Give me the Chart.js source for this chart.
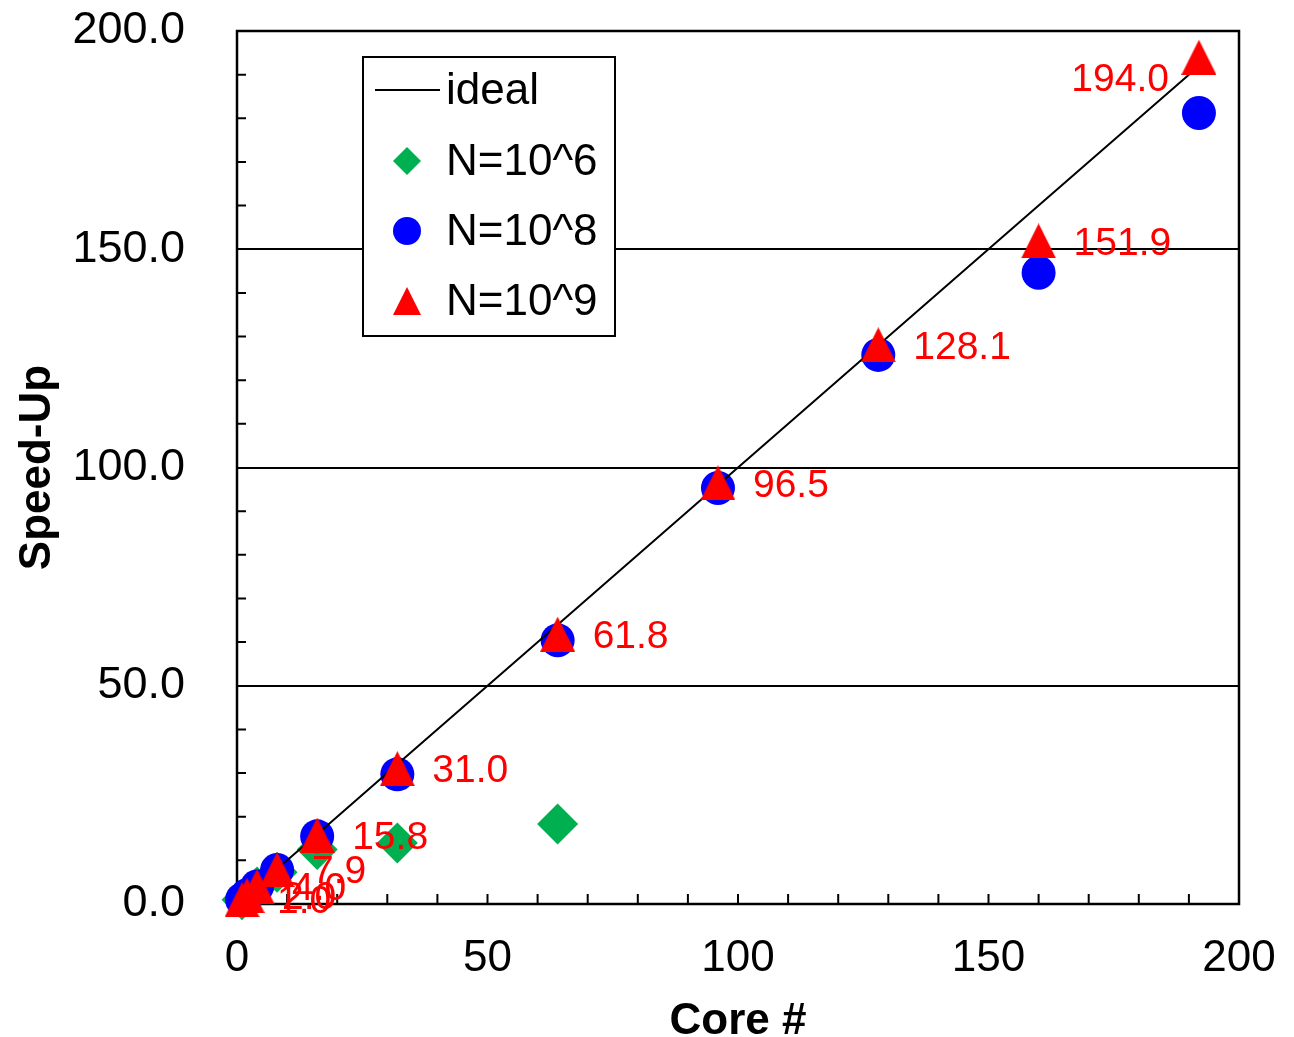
<!DOCTYPE html>
<html>
<head>
<meta charset="utf-8">
<script src="https://cdn.jsdelivr.net/npm/chart.js@4.4.1/dist/chart.umd.min.js"></script>
<style>
  html, body { margin: 0; padding: 0; background: #fff; }
  #wrap { width: 1294px; height: 1037px; }
</style>
</head>
<body>
<div id="wrap"><canvas id="chart"></canvas></div>
<script>
// core counts and measured speed-ups
const cores = [1, 2, 4, 8, 16, 32, 64, 96, 128, 160, 192];
const ideal = [1, 2, 4, 8, 16, 32, 64, 96, 128, 160, 192];
const speedN6 = [1.0, 2.0, 3.9, 7.3, 12.5, 14.0, 18.3]; // only measured up to 64 cores
const speedN8 = [1.0, 2.0, 4.0, 7.8, 15.5, 29.7, 60.4, 95.3, 125.8, 144.6, 181.2];
const speedN9 = [1.0, 2.0, 4.0, 7.9, 15.8, 31.0, 61.8, 96.5, 128.1, 151.9, 194.0];
const xTicks = [0, 50, 100, 150, 200];
const yTicks = [0, 50, 100, 150, 200];

const FONT = '"Liberation Sans", Arial, sans-serif';
const RED = '#ff0000';
const BLUE = '#0000ff';
const GREEN = '#00b050';
const CLEAR = 'rgba(0,0,0,0)';

function pairs(xs, ys) {
  return ys.map((y, i) => ({ x: xs[i], y: y }));
}

// Excel style triangle (as wide as it is tall)
function triangleImage(size, color) {
  const c = document.createElement('canvas');
  c.width = size;
  c.height = size;
  const g = c.getContext('2d');
  g.fillStyle = color;
  g.beginPath();
  g.moveTo(size / 2, 0);
  g.lineTo(size, size);
  g.lineTo(0, size);
  g.closePath();
  g.fill();
  return c;
}

const bigTriangle = triangleImage(35, RED);
const smallTriangle = triangleImage(28, RED);

const chartDecor = {
  id: 'chartDecor',
  beforeDatasetsDraw(chart) {
    const { ctx, chartArea: a, scales } = chart;
    ctx.save();
    ctx.strokeStyle = '#000';
    // minor ticks, pointing inwards
    ctx.lineWidth = 2;
    ctx.beginPath();
    for (let v = 10; v < 200; v += 10) {
      if (v % 50 === 0) continue;
      const y = scales.y.getPixelForValue(v);
      ctx.moveTo(a.left, y);
      ctx.lineTo(a.left + 9, y);
    }
    for (let v = 10; v < 200; v += 10) {
      const x = scales.x.getPixelForValue(v);
      ctx.moveTo(x, a.bottom);
      ctx.lineTo(x, a.bottom - 10);
    }
    ctx.stroke();
    // plot frame
    ctx.lineWidth = 2.5;
    ctx.strokeRect(a.left, a.top, a.right - a.left, a.bottom - a.top);
    ctx.restore();
  },
  afterDatasetsDraw(chart) {
    const { ctx, chartArea: a } = chart;
    ctx.save();

    // value labels for N=10^9
    const meta = chart.getDatasetMeta(0);
    ctx.font = '39px ' + FONT;
    ctx.fillStyle = RED;
    ctx.textBaseline = 'middle';
    meta.data.forEach((pt, i) => {
      const txt = speedN9[i].toFixed(1);
      if (i === meta.data.length - 1) {
        ctx.textAlign = 'right';
        ctx.fillText(txt, pt.x - 30, pt.y + 23);
      } else {
        ctx.textAlign = 'left';
        ctx.fillText(txt, pt.x + 35, pt.y + 3);
      }
    });

    // legend box
    const bx = a.left + 126, by = a.top + 26, bw = 252, bh = 279;
    ctx.fillStyle = '#fff';
    ctx.fillRect(bx, by, bw, bh);
    ctx.strokeStyle = '#000';
    ctx.lineWidth = 2;
    ctx.strokeRect(bx, by, bw, bh);

    const mx = bx + 44;
    const tx = bx + 83;
    const rows = [by + 33, by + 104, by + 174, by + 244];

    ctx.lineWidth = 2;
    ctx.beginPath();
    ctx.moveTo(bx + 12, rows[0]);
    ctx.lineTo(bx + 77, rows[0]);
    ctx.stroke();

    ctx.fillStyle = GREEN;
    ctx.beginPath();
    ctx.moveTo(mx, rows[1] - 14);
    ctx.lineTo(mx + 14, rows[1]);
    ctx.lineTo(mx, rows[1] + 14);
    ctx.lineTo(mx - 14, rows[1]);
    ctx.closePath();
    ctx.fill();

    ctx.fillStyle = BLUE;
    ctx.beginPath();
    ctx.arc(mx, rows[2], 14, 0, Math.PI * 2);
    ctx.fill();

    ctx.drawImage(smallTriangle, mx - 14, rows[3] - 14);

    ctx.fillStyle = '#000';
    ctx.font = '44px ' + FONT;
    ctx.textAlign = 'left';
    ctx.textBaseline = 'middle';
    ['ideal', 'N=10^6', 'N=10^8', 'N=10^9'].forEach((t, i) => {
      ctx.fillText(t, tx, rows[i] + 2);
    });

    ctx.restore();
  }
};

new Chart(document.getElementById('chart'), {
  type: 'scatter',
  data: {
    datasets: [
      {
        label: 'N=10^9',
        data: pairs(cores, speedN9),
        pointStyle: bigTriangle,
        pointRadius: 18,
        clip: false,
        order: 0,
      },
      {
        label: 'ideal',
        type: 'line',
        data: pairs(cores, ideal),
        borderColor: '#000',
        borderWidth: 2,
        pointRadius: 0,
        fill: false,
        clip: false,
        order: 1,
      },
      {
        label: 'N=10^8',
        data: pairs(cores, speedN8),
        pointStyle: 'circle',
        pointRadius: 17,
        backgroundColor: BLUE,
        borderWidth: 0,
        clip: false,
        order: 2,
      },
      {
        label: 'N=10^6',
        data: pairs(cores, speedN6),
        pointStyle: 'rectRot',
        pointRadius: 20.5,
        backgroundColor: GREEN,
        borderWidth: 0,
        clip: false,
        order: 3,
      },
    ],
  },
  options: {
    responsive: true,
    maintainAspectRatio: false,
    animation: false,
    events: [],
    layout: {
      padding: { top: 31, right: 55, bottom: 0, left: 0 },
    },
    plugins: {
      legend: { display: false },
      tooltip: { enabled: false },
    },
    scales: {
      x: {
        type: 'linear',
        min: 0,
        max: 200,
        afterBuildTicks: (s) => { s.ticks = xTicks.map((v) => ({ value: v })); },
        afterFit: (s) => { s.height = 133; },
        ticks: {
          color: '#000',
          font: { family: FONT, size: 44 },
          padding: 0,
          maxRotation: 0,
        },
        // invisible tick marks used only as spacing before the labels
        grid: { drawOnChartArea: false, drawTicks: true, tickLength: 28, tickColor: CLEAR, color: CLEAR },
        border: { display: false },
        title: {
          display: true,
          text: 'Core #',
          color: '#000',
          font: { family: FONT, size: 44, weight: 'bold', lineHeight: 0.68 },
          padding: { top: 0, bottom: 0 },
        },
      },
      y: {
        type: 'linear',
        min: 0,
        max: 200,
        afterBuildTicks: (s) => { s.ticks = yTicks.map((v) => ({ value: v })); },
        afterFit: (s) => { s.width = 237; },
        ticks: {
          color: '#000',
          font: { family: FONT, size: 45 },
          padding: 0,
          callback: (v) => Number(v).toFixed(1),
        },
        grid: {
          drawTicks: true,
          tickLength: 52,
          tickColor: CLEAR,
          lineWidth: 2,
          color: (c) => (c.tick && c.tick.value > 0 && c.tick.value < 200 ? '#000' : CLEAR),
        },
        border: { display: false },
        title: {
          display: true,
          text: 'Speed-Up',
          color: '#000',
          font: { family: FONT, size: 44, weight: 'bold', lineHeight: 1.0 },
          padding: { top: 16, bottom: 0 },
        },
      },
    },
  },
  plugins: [chartDecor],
});
</script>
</body>
</html>
